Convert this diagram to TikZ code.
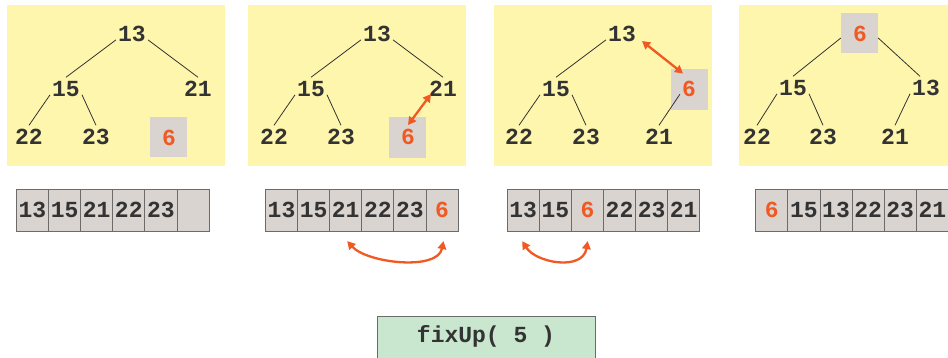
\documentclass[tikz,border=0pt]{standalone}
\usepackage{fontspec}
\newfontfamily\codefont{Liberation Mono}
\usetikzlibrary{arrows.meta}
\definecolor{panelbg}{HTML}{FFF6AE}
\definecolor{cellbg}{HTML}{DAD4D1}
\definecolor{cellline}{HTML}{6B6B6B}
\definecolor{ink}{HTML}{333333}
\definecolor{hot}{HTML}{F05A22}
\definecolor{callbg}{HTML}{C9E7CE}
\begin{document}
\begin{tikzpicture}[x=1pt,y=-1pt,
  codetext/.style={font=\codefont\fontsize{23}{26}\selectfont\bfseries},
  key/.style={codetext, text=ink, inner xsep=2pt, inner ysep=4pt,
    text height=15pt, text depth=0pt},
  moved/.style={key, text=hot},
  slot/.style={fill=cellbg, minimum width=37pt, minimum height=40pt, inner sep=0pt},
  edge/.style={draw=ink, line width=0.8pt},
  swap/.style={draw=hot, line width=2.3pt,
    {Triangle[length=8pt,width=8.5pt]}-{Triangle[length=8pt,width=8.5pt]}},
  cell/.style={codetext, text=ink, draw=cellline, line width=0.9pt, fill=cellbg,
    minimum width=32.1pt, minimum height=41.4pt, inner sep=0pt,
    text height=15pt, text depth=0pt, anchor=north west},
  panel/.style={fill=panelbg, draw=none}
]
\useasboundingbox (0,0) rectangle (948,357);
\clip (0,0) rectangle (948,357);

% yellow backgrounds for the four tree states
\fill[panel] (7,5) rectangle (225,166);
\fill[panel] (248,5) rectangle (466,166);
\fill[panel] (494,5) rectangle (712,166);
\fill[panel] (739,5) rectangle (960,166);

% ---- state 1: 6 appended as the last leaf
\node[key] (p1n13) at (132,34) {13};
\node[key] (p1n15) at (66,89) {15};
\node[key] (p1n21) at (198,89) {21};
\node[key] (p1n22) at (29,137) {22};
\node[key] (p1n23) at (96,137) {23};
\node[slot] (p1b6) at (168.5,137) {};
\node[moved] (p1n6) at (169,138) {6};
\draw[edge] (p1n13.200) -- (p1n15.north);
\draw[edge] (p1n13.-20) -- (p1n21.north);
\draw[edge] (p1n15.-160) -- (p1n22.north);
\draw[edge] (p1n15.-20) -- (p1n23.north);

% ---- state 2: swap 6 with its parent 21
\node[key] (p2n13) at (377,34) {13};
\node[key] (p2n15) at (311,89) {15};
\node[key] (p2n21) at (443,89) {21};
\node[key] (p2n22) at (274,137) {22};
\node[key] (p2n23) at (341,137) {23};
\node[slot, minimum height=41pt] (p2b6) at (407.5,137.5) {};
\node[moved] (p2n6) at (408,137) {6};
\draw[edge] (p2n13.200) -- (p2n15.north);
\draw[edge] (p2n13.-20) -- (p2n21.north);
\draw[edge] (p2n15.-160) -- (p2n22.north);
\draw[edge] (p2n15.-20) -- (p2n23.north);
\draw[swap] ([shift={(-12,5)}]p2n21.center) -- ([shift={(0,-12)}]p2n6.center);

% ---- state 3: swap 6 with the root 13
\node[key] (p3n13) at (622,34) {13};
\node[key] (p3n15) at (556,89) {15};
\node[slot, minimum height=41pt] (p3b6) at (689.5,89.5) {};
\node[moved] (p3n6) at (689,89) {6};
\node[key] (p3n22) at (519,137) {22};
\node[key] (p3n23) at (586,137) {23};
\node[key] (p3n21) at (659,137) {21};
\draw[edge] (p3n13.200) -- (p3n15.north);
\draw[edge] (p3n15.-160) -- (p3n22.north);
\draw[edge] (p3n15.-20) -- (p3n23.north);
\draw[edge] (p3n6.-150) -- (p3n21.north);
\draw[swap] ([shift={(20,7)}]p3n13.center) -- ([shift={(-6,-15.5)}]p3n6.center);

% ---- state 4: 6 is the new root
\node[slot] (p4b6) at (859.5,33) {};
\node[moved] (p4n6) at (860,34) {6};
\node[key] (p4n15) at (793,88) {15};
\node[key] (p4n13) at (926,88) {13};
\node[key] (p4n22) at (757,137) {22};
\node[key] (p4n23) at (823,137) {23};
\node[key] (p4n21) at (895,137) {21};
\draw[edge] (p4b6.195) -- (p4n15.north);
\draw[edge] (p4b6.-15) -- ([xshift=-6pt]p4n13.north);
\draw[edge] (p4n15.-160) -- (p4n22.north);
\draw[edge] (p4n15.-20) -- (p4n23.north);
\draw[edge] (p4n13.-160) -- (p4n21.north);

% ---- array views
\foreach \v/\c [count=\i] in {13/ink,15/ink,21/ink,22/ink,23/ink,{}/ink}
  \node[cell, text=\c] (a1c\i) at ({16+32.1*(\i-1)},189.3) {\v};
\foreach \v/\c [count=\i] in {13/ink,15/ink,21/ink,22/ink,23/ink,6/hot}
  \node[cell, text=\c] (a2c\i) at ({265+32.1*(\i-1)},189.3) {\v};
\foreach \v/\c [count=\i] in {13/ink,15/ink,6/hot,22/ink,23/ink,21/ink}
  \node[cell, text=\c] (a3c\i) at ({506.7+32.1*(\i-1)},189.3) {\v};
\foreach \v/\c [count=\i] in {6/hot,15/ink,13/ink,22/ink,23/ink,21/ink}
  \node[cell, text=\c] (a4c\i) at ({755.3+32.1*(\i-1)},189.3) {\v};

\draw[swap] ([shift={(1.5,9.5)}]a2c3.south) .. controls +(20,22) and +(-6,30) .. ([shift={(1.5,9.5)}]a2c6.south);
\draw[swap] ([shift={(-1,9.5)}]a3c1.south) .. controls +(14,22) and +(-5,30) .. ([shift={(0.3,9.5)}]a3c3.south);

% ---- call label
\node[draw=cellline, line width=0.9pt, fill=callbg, anchor=north west,
  minimum width=218.3pt, minimum height=50pt, inner sep=0pt] (call) at (376.7,315.7) {};
\node[codetext, text=ink, anchor=base] (calltext) at (486,342.3) {fixUp( 5 )};
\end{tikzpicture}
\end{document}
